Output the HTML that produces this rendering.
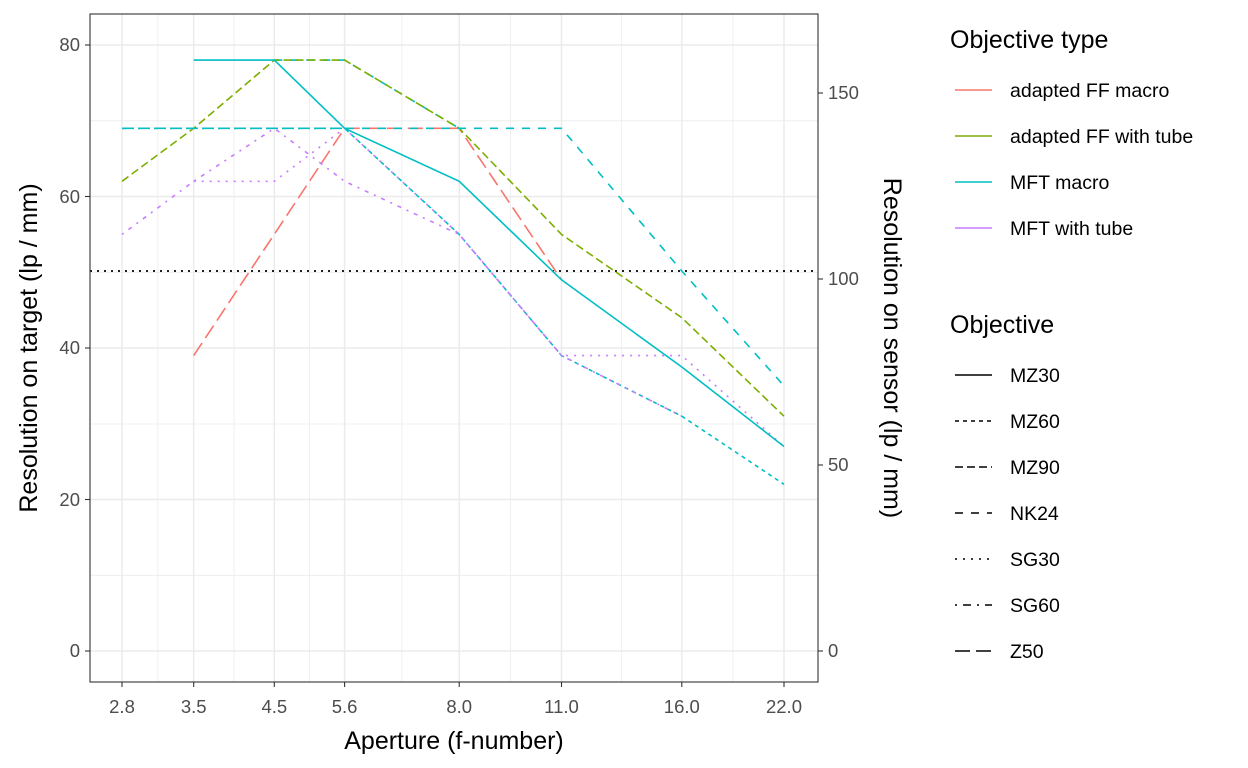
<!DOCTYPE html>
<html><head><meta charset="utf-8"><style>
html,body{margin:0;padding:0;background:#fff;}
svg{display:block;font-family:"Liberation Sans",Arial,sans-serif;}
</style></head><body>
<svg width="1248" height="768" viewBox="0 0 1248 768">
<rect width="1248" height="768" fill="#fff"/>
<g stroke="#ebebeb" stroke-width="0.8">
<line x1="90" x2="818" y1="575.3" y2="575.3"/><line x1="90" x2="818" y1="424" y2="424"/><line x1="90" x2="818" y1="272.3" y2="272.3"/><line x1="90" x2="818" y1="120.8" y2="120.8"/>
<line x1="157.9" x2="157.9" y1="14" y2="682"/><line x1="234" x2="234" y1="14" y2="682"/><line x1="309.5" x2="309.5" y1="14" y2="682"/><line x1="401.9" x2="401.9" y1="14" y2="682"/><line x1="510.4" x2="510.4" y1="14" y2="682"/><line x1="621.7" x2="621.7" y1="14" y2="682"/><line x1="732.9" x2="732.9" y1="14" y2="682"/>
</g>
<g stroke="#ebebeb" stroke-width="1.5">
<line x1="90" x2="818" y1="651" y2="651"/><line x1="90" x2="818" y1="499.5" y2="499.5"/><line x1="90" x2="818" y1="348" y2="348"/><line x1="90" x2="818" y1="196.5" y2="196.5"/><line x1="90" x2="818" y1="45" y2="45"/>
<line x1="122" x2="122" y1="14" y2="682"/><line x1="193.7" x2="193.7" y1="14" y2="682"/><line x1="274.3" x2="274.3" y1="14" y2="682"/><line x1="344.6" x2="344.6" y1="14" y2="682"/><line x1="459.2" x2="459.2" y1="14" y2="682"/><line x1="561.5" x2="561.5" y1="14" y2="682"/><line x1="681.8" x2="681.8" y1="14" y2="682"/><line x1="784" x2="784" y1="14" y2="682"/>
</g>
<line x1="90" x2="818" y1="271" y2="271" stroke="#000" stroke-width="1.8" stroke-dasharray="2 5"/>
<g fill="none" stroke-width="1.6">
<polyline stroke="#F8766D" stroke-dasharray="15 6" points="193.7,355.6 344.6,128.3 459.2,128.3 561.5,279.8"/>
<polyline stroke="#00BFC4" stroke-dasharray="8 8" points="274.3,60.1 344.6,60.1 459.2,128.3"/>
<polyline stroke="#7CAE00" stroke-dasharray="8 4" points="122,181.3 193.7,128.3 274.3,60.1 344.6,60.1 459.2,128.3 561.5,234.4 681.8,317.7 784,416.2"/>
<polyline stroke="#00BFC4" stroke-dasharray="8 8" points="122,128.3 561.5,128.3 681.8,271 784,385.9"/>
<polyline stroke="#00BFC4" stroke-dasharray="4 4" points="122,128.3 344.6,128.3 459.2,234.4 561.5,355.6 681.8,416.2 784,484.3"/>
<polyline stroke="#C77CFF" stroke-dasharray="2 6 4 6" points="122,234.4 193.7,181.3 274.3,128.3 344.6,181.3 459.2,234.4 561.5,355.6 681.8,416.2"/>
<polyline stroke="#C77CFF" stroke-dasharray="2 6" points="193.7,181.3 274.3,181.3 344.6,128.3 459.2,234.4 561.5,355.6 681.8,355.6 784,446.5"/>
<polyline stroke="#00BFC4" points="193.7,60.1 274.3,60.1 344.6,128.3 459.2,181.3 561.5,279.8 681.8,367 784,446.5"/>
</g>
<rect x="90" y="14" width="728" height="668" fill="none" stroke="#333" stroke-width="1.1"/>
<g stroke="#333" stroke-width="1.1">
<line x1="85" x2="90" y1="651" y2="651"/><line x1="85" x2="90" y1="499.5" y2="499.5"/><line x1="85" x2="90" y1="348" y2="348"/><line x1="85" x2="90" y1="196.5" y2="196.5"/><line x1="85" x2="90" y1="45" y2="45"/>
<line x1="818" x2="823" y1="651" y2="651"/><line x1="818" x2="823" y1="465" y2="465"/><line x1="818" x2="823" y1="279" y2="279"/><line x1="818" x2="823" y1="93" y2="93"/>
<line x1="122" x2="122" y1="682" y2="687"/><line x1="193.7" x2="193.7" y1="682" y2="687"/><line x1="274.3" x2="274.3" y1="682" y2="687"/><line x1="344.6" x2="344.6" y1="682" y2="687"/><line x1="459.2" x2="459.2" y1="682" y2="687"/><line x1="561.5" x2="561.5" y1="682" y2="687"/><line x1="681.8" x2="681.8" y1="682" y2="687"/><line x1="784" x2="784" y1="682" y2="687"/>
</g>
<g fill="#4d4d4d" font-size="18.5" text-anchor="end">
<text x="80" y="657">0</text><text x="80" y="506">20</text><text x="80" y="354">40</text><text x="80" y="203">60</text><text x="80" y="51">80</text>
</g>
<g fill="#4d4d4d" font-size="18.5">
<text x="828" y="657">0</text><text x="828" y="471">50</text><text x="828" y="285">100</text><text x="828" y="99">150</text>
</g>
<g fill="#4d4d4d" font-size="18.5" text-anchor="middle">
<text x="122" y="713">2.8</text><text x="193.7" y="713">3.5</text><text x="274.3" y="713">4.5</text><text x="344.6" y="713">5.6</text><text x="459.2" y="713">8.0</text><text x="561.5" y="713">11.0</text><text x="681.8" y="713">16.0</text><text x="784" y="713">22.0</text>
</g>
<text x="454" y="749" font-size="25" text-anchor="middle">Aperture (f-number)</text>
<text transform="translate(37,348) rotate(-90)" font-size="25" text-anchor="middle">Resolution on target (lp / mm)</text>
<text transform="translate(884,348) rotate(90)" font-size="25" text-anchor="middle">Resolution on sensor (lp / mm)</text>
<text x="950" y="48" font-size="25">Objective type</text>
<g stroke-width="1.5">
<line x1="955" x2="992" y1="90" y2="90" stroke="#F8766D"/>
<line x1="955" x2="992" y1="136" y2="136" stroke="#7CAE00"/>
<line x1="955" x2="992" y1="182" y2="182" stroke="#00BFC4"/>
<line x1="955" x2="992" y1="228" y2="228" stroke="#C77CFF"/>
</g>
<g font-size="19.5">
<text x="1010" y="97">adapted FF macro</text><text x="1010" y="143">adapted FF with tube</text><text x="1010" y="189">MFT macro</text><text x="1010" y="235">MFT with tube</text>
</g>
<text x="950" y="333" font-size="25">Objective</text>
<g stroke="#000" stroke-width="1.5">
<line x1="955" x2="992" y1="375" y2="375"/>
<line x1="955" x2="992" y1="421" y2="421" stroke-dasharray="4 4"/>
<line x1="955" x2="992" y1="467" y2="467" stroke-dasharray="8 4"/>
<line x1="955" x2="992" y1="513" y2="513" stroke-dasharray="8 8"/>
<line x1="955" x2="992" y1="559" y2="559" stroke-dasharray="2 6"/>
<line x1="955" x2="992" y1="605" y2="605" stroke-dasharray="2 6 8 6"/>
<line x1="955" x2="992" y1="651" y2="651" stroke-dasharray="15 6"/>
</g>
<g font-size="19.5">
<text x="1010" y="382">MZ30</text><text x="1010" y="428">MZ60</text><text x="1010" y="474">MZ90</text><text x="1010" y="520">NK24</text><text x="1010" y="566">SG30</text><text x="1010" y="612">SG60</text><text x="1010" y="658">Z50</text>
</g>
</svg>
</body></html>
